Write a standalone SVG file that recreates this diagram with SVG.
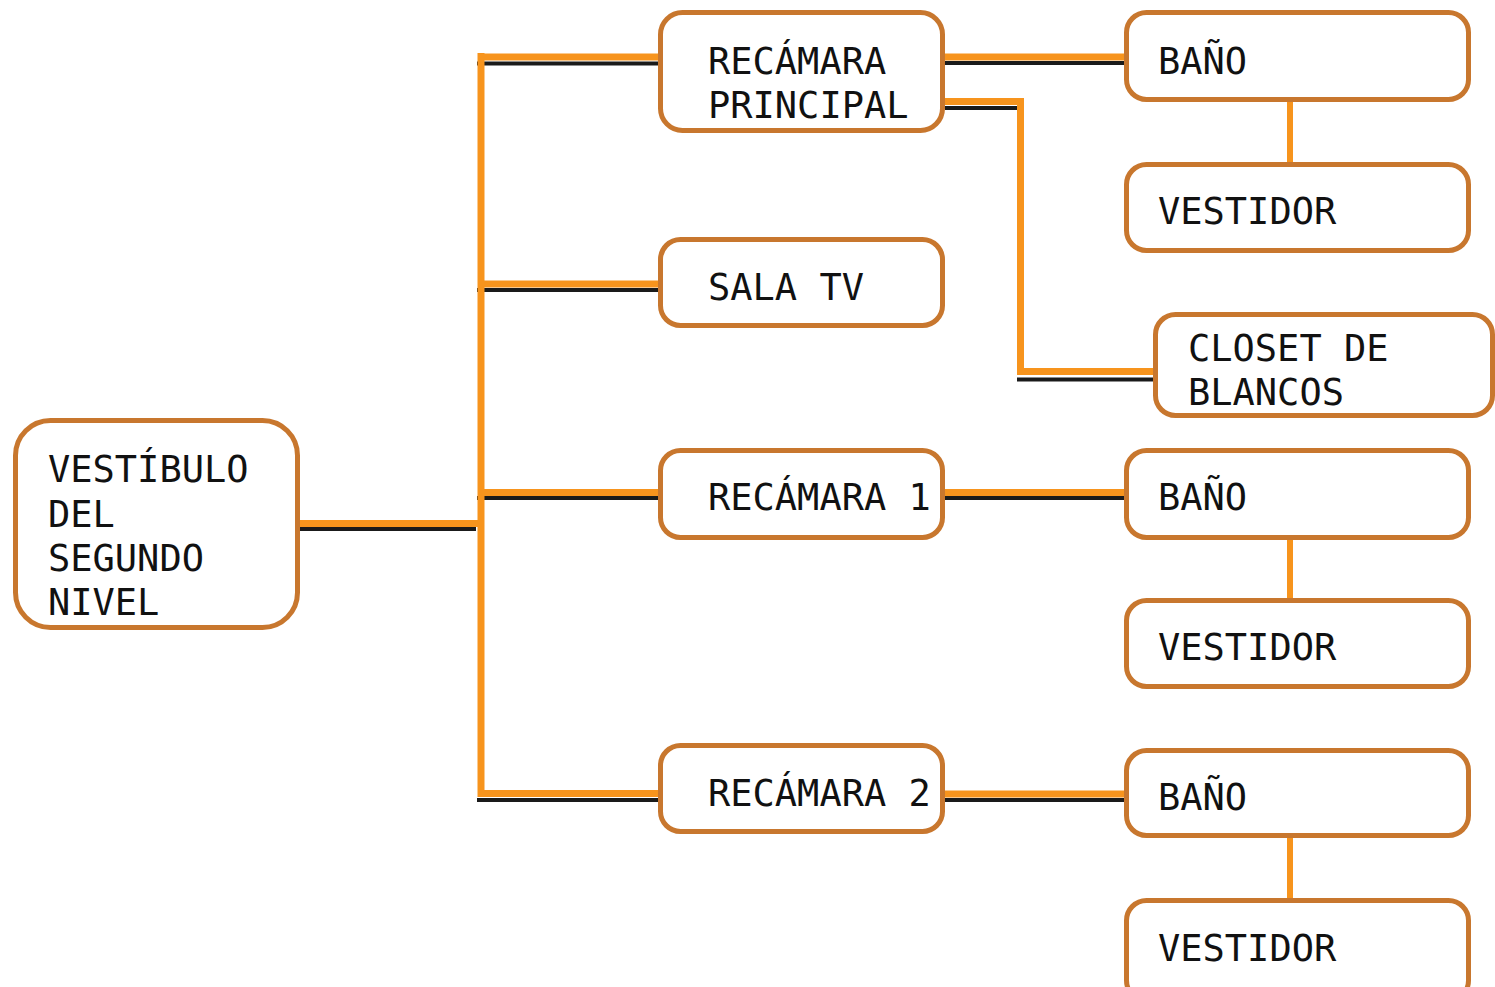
<svg xmlns="http://www.w3.org/2000/svg" width="1495" height="987" viewBox="0 0 1495 987">
<style>
.box{fill:#ffffff;stroke:#C8772E;stroke-width:5}
.t{font-family:"DejaVu Sans Mono","Liberation Mono",monospace;font-size:37px;fill:#111111}
.or{fill:none;stroke:#F7941D;stroke-width:7}
.bk{fill:none;stroke:#1a1a1a;stroke-width:4}
.ov{fill:none;stroke:#F7941D;stroke-width:6}
</style>
<rect width="1495" height="987" fill="#ffffff"/>
<g id="connectors">
  <path class="bk" d="M300,529 H476"/>
  <path class="bk" d="M477,63.5 H658"/>
  <path class="bk" d="M477,290 H658"/>
  <path class="bk" d="M477,498 H658"/>
  <path class="bk" d="M477,800 H658"/>
  <path class="bk" d="M945,63 H1124"/>
  <path class="bk" d="M945,108 H1018"/>
  <path class="bk" d="M1017,379.5 H1153"/>
  <path class="bk" d="M945,498 H1124"/>
  <path class="bk" d="M945,800 H1124"/>
  <path class="or" d="M300,523.5 H478"/>
  <path class="or" d="M481,53 V797"/>
  <path class="or" d="M478,57 H658"/>
  <path class="or" d="M478,284 H658"/>
  <path class="or" d="M478,492.5 H658"/>
  <path class="or" d="M478,793.5 H658"/>
  <path class="or" d="M945,57 H1124"/>
  <path class="or" d="M945,101.5 H1020.5 V371.5 H1153"/>
  <path class="or" d="M945,492.5 H1124"/>
  <path class="or" d="M945,794 H1124"/>
  <path class="ov" d="M1290,102 V162"/>
  <path class="ov" d="M1290,540 V598"/>
  <path class="ov" d="M1290,838 V898"/>
</g>
<g id="vestibulo">
  <rect class="box" x="15.5" y="420.5" width="282" height="207" rx="35"/>
  <text class="t" x="48" y="482">VESTÍBULO</text>
  <text class="t" x="48" y="527">DEL</text>
  <text class="t" x="48" y="571">SEGUNDO</text>
  <text class="t" x="48" y="615">NIVEL</text>
</g>
<g id="recamara-principal">
  <rect class="box" x="660.5" y="12.5" width="282" height="118" rx="22"/>
  <text class="t" x="708" y="74">RECÁMARA</text>
  <text class="t" x="708" y="118">PRINCIPAL</text>
</g>
<g id="sala-tv">
  <rect class="box" x="660.5" y="239.5" width="282" height="86" rx="20"/>
  <text class="t" x="708" y="300">SALA TV</text>
</g>
<g id="recamara-1">
  <rect class="box" x="660.5" y="450.5" width="282" height="87" rx="20"/>
  <text class="t" x="708" y="510">RECÁMARA 1</text>
</g>
<g id="recamara-2">
  <rect class="box" x="660.5" y="745.5" width="282" height="86" rx="20"/>
  <text class="t" x="708" y="806">RECÁMARA 2</text>
</g>
<g id="bano-1">
  <rect class="box" x="1126.5" y="12.5" width="342" height="87" rx="20"/>
  <text class="t" x="1158" y="74">BAÑO</text>
</g>
<g id="vestidor-1">
  <rect class="box" x="1126.5" y="164.5" width="342" height="86" rx="20"/>
  <text class="t" x="1158" y="224">VESTIDOR</text>
</g>
<g id="closet">
  <rect class="box" x="1155.5" y="314.5" width="337" height="101" rx="20"/>
  <text class="t" x="1188" y="361">CLOSET DE</text>
  <text class="t" x="1188" y="405">BLANCOS</text>
</g>
<g id="bano-2">
  <rect class="box" x="1126.5" y="450.5" width="342" height="87" rx="20"/>
  <text class="t" x="1158" y="510">BAÑO</text>
</g>
<g id="vestidor-2">
  <rect class="box" x="1126.5" y="600.5" width="342" height="86" rx="20"/>
  <text class="t" x="1158" y="660">VESTIDOR</text>
</g>
<g id="bano-3">
  <rect class="box" x="1126.5" y="750.5" width="342" height="85" rx="20"/>
  <text class="t" x="1158" y="810">BAÑO</text>
</g>
<g id="vestidor-3">
  <rect class="box" x="1126.5" y="900.5" width="342" height="100" rx="20"/>
  <text class="t" x="1158" y="961">VESTIDOR</text>
</g>
</svg>
